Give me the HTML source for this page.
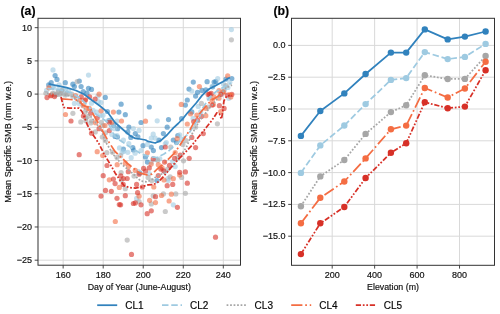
<!DOCTYPE html><html><head><meta charset="utf-8"><style>html,body{margin:0;padding:0;background:#fff;width:500px;height:314px;overflow:hidden}svg{display:block}text{font-family:"Liberation Sans",sans-serif;fill:#111111;stroke:#111111;stroke-width:0.18px}</style></head><body>
<div style="will-change:transform;width:500px;height:314px">
<svg width="500" height="314" viewBox="0 0 500 314">
<g>
<line x1="63.15" y1="18.3" x2="63.15" y2="265.2" stroke="#d9d9d9" stroke-width="1"/>
<line x1="103.19" y1="18.3" x2="103.19" y2="265.2" stroke="#d9d9d9" stroke-width="1"/>
<line x1="143.23" y1="18.3" x2="143.23" y2="265.2" stroke="#d9d9d9" stroke-width="1"/>
<line x1="183.27" y1="18.3" x2="183.27" y2="265.2" stroke="#d9d9d9" stroke-width="1"/>
<line x1="223.31" y1="18.3" x2="223.31" y2="265.2" stroke="#d9d9d9" stroke-width="1"/>
<line x1="38.0" y1="27.66" x2="240.5" y2="27.66" stroke="#d9d9d9" stroke-width="1"/>
<line x1="38.0" y1="60.88" x2="240.5" y2="60.88" stroke="#d9d9d9" stroke-width="1"/>
<line x1="38.0" y1="94.10" x2="240.5" y2="94.10" stroke="#d9d9d9" stroke-width="1"/>
<line x1="38.0" y1="127.32" x2="240.5" y2="127.32" stroke="#d9d9d9" stroke-width="1"/>
<line x1="38.0" y1="160.54" x2="240.5" y2="160.54" stroke="#d9d9d9" stroke-width="1"/>
<line x1="38.0" y1="193.76" x2="240.5" y2="193.76" stroke="#d9d9d9" stroke-width="1"/>
<line x1="38.0" y1="226.98" x2="240.5" y2="226.98" stroke="#d9d9d9" stroke-width="1"/>
<line x1="38.0" y1="260.20" x2="240.5" y2="260.20" stroke="#d9d9d9" stroke-width="1"/>
</g>
<line x1="332.20" y1="18.3" x2="332.20" y2="265.3" stroke="#d9d9d9" stroke-width="1"/>
<line x1="374.64" y1="18.3" x2="374.64" y2="265.3" stroke="#d9d9d9" stroke-width="1"/>
<line x1="417.08" y1="18.3" x2="417.08" y2="265.3" stroke="#d9d9d9" stroke-width="1"/>
<line x1="459.52" y1="18.3" x2="459.52" y2="265.3" stroke="#d9d9d9" stroke-width="1"/>
<line x1="291.5" y1="45.40" x2="494.5" y2="45.40" stroke="#d9d9d9" stroke-width="1"/>
<line x1="291.5" y1="77.20" x2="494.5" y2="77.20" stroke="#d9d9d9" stroke-width="1"/>
<line x1="291.5" y1="109.00" x2="494.5" y2="109.00" stroke="#d9d9d9" stroke-width="1"/>
<line x1="291.5" y1="140.80" x2="494.5" y2="140.80" stroke="#d9d9d9" stroke-width="1"/>
<line x1="291.5" y1="172.60" x2="494.5" y2="172.60" stroke="#d9d9d9" stroke-width="1"/>
<line x1="291.5" y1="204.40" x2="494.5" y2="204.40" stroke="#d9d9d9" stroke-width="1"/>
<line x1="291.5" y1="236.20" x2="494.5" y2="236.20" stroke="#d9d9d9" stroke-width="1"/>
<g>
<g fill="#3182bd" fill-opacity="0.6">
<circle cx="55.1" cy="75.6" r="2.6"/>
<circle cx="57.0" cy="79.4" r="2.6"/>
<circle cx="51.2" cy="82.7" r="2.6"/>
<circle cx="48.7" cy="84.9" r="2.6"/>
<circle cx="65.3" cy="82.7" r="2.6"/>
<circle cx="72.9" cy="84.2" r="2.6"/>
<circle cx="74.4" cy="86.5" r="2.6"/>
<circle cx="79.3" cy="81.0" r="2.6"/>
<circle cx="81.1" cy="86.5" r="2.6"/>
<circle cx="88.5" cy="88.3" r="2.6"/>
<circle cx="91.5" cy="89.4" r="2.6"/>
<circle cx="83.2" cy="91.7" r="2.6"/>
<circle cx="87.0" cy="93.0" r="2.6"/>
<circle cx="105.3" cy="97.4" r="2.6"/>
<circle cx="121.1" cy="104.2" r="2.6"/>
<circle cx="118.9" cy="112.1" r="2.6"/>
<circle cx="125.3" cy="114.7" r="2.6"/>
<circle cx="107.4" cy="111.5" r="2.6"/>
<circle cx="109.3" cy="120.4" r="2.6"/>
<circle cx="117.6" cy="128.7" r="2.6"/>
<circle cx="127.8" cy="131.9" r="2.6"/>
<circle cx="115.1" cy="136.4" r="2.6"/>
<circle cx="123.4" cy="149.1" r="2.6"/>
<circle cx="133.4" cy="150.0" r="2.6"/>
<circle cx="153.4" cy="150.6" r="2.6"/>
<circle cx="145.5" cy="157.0" r="2.6"/>
<circle cx="147.4" cy="162.1" r="2.6"/>
<circle cx="139.8" cy="173.0" r="2.6"/>
<circle cx="157.0" cy="180.6" r="2.6"/>
<circle cx="141.0" cy="122.5" r="2.6"/>
<circle cx="168.5" cy="119.6" r="2.6"/>
<circle cx="128.9" cy="127.2" r="2.6"/>
<circle cx="135.3" cy="133.6" r="2.6"/>
<circle cx="137.9" cy="136.8" r="2.6"/>
<circle cx="130.8" cy="137.4" r="2.6"/>
<circle cx="163.4" cy="133.6" r="2.6"/>
<circle cx="167.2" cy="127.2" r="2.6"/>
<circle cx="158.9" cy="140.0" r="2.6"/>
<circle cx="151.3" cy="147.0" r="2.6"/>
<circle cx="132.8" cy="147.6" r="2.6"/>
<circle cx="143.0" cy="145.7" r="2.6"/>
<circle cx="161.5" cy="147.6" r="2.6"/>
<circle cx="149.3" cy="107.0" r="2.6"/>
<circle cx="181.6" cy="118.7" r="2.6"/>
<circle cx="191.8" cy="111.9" r="2.6"/>
<circle cx="177.8" cy="135.5" r="2.6"/>
<circle cx="173.3" cy="140.0" r="2.6"/>
<circle cx="176.5" cy="142.5" r="2.6"/>
<circle cx="193.3" cy="82.1" r="2.6"/>
<circle cx="207.1" cy="81.7" r="2.6"/>
<circle cx="214.1" cy="82.1" r="2.6"/>
<circle cx="189.0" cy="89.1" r="2.6"/>
<circle cx="197.5" cy="92.3" r="2.6"/>
<circle cx="202.0" cy="90.4" r="2.6"/>
<circle cx="205.8" cy="89.8" r="2.6"/>
<circle cx="195.6" cy="96.1" r="2.6"/>
<circle cx="187.3" cy="100.0" r="2.6"/>
<circle cx="185.4" cy="105.1" r="2.6"/>
<circle cx="215.8" cy="81.7" r="2.6"/>
<circle cx="226.0" cy="79.1" r="2.6"/>
<circle cx="231.8" cy="78.5" r="2.6"/>
<circle cx="212.6" cy="86.8" r="2.6"/>
<circle cx="113.6" cy="125.6" r="2.6"/>
<circle cx="117.4" cy="137.0" r="2.6"/>
</g>
<g fill="#9ecae1" fill-opacity="0.6">
<circle cx="53.0" cy="69.9" r="2.6"/>
<circle cx="88.5" cy="75.1" r="2.6"/>
<circle cx="46.6" cy="90.4" r="2.6"/>
<circle cx="59.1" cy="84.9" r="2.6"/>
<circle cx="52.8" cy="86.8" r="2.6"/>
<circle cx="65.5" cy="89.3" r="2.6"/>
<circle cx="74.4" cy="103.4" r="2.6"/>
<circle cx="97.9" cy="96.1" r="2.6"/>
<circle cx="101.0" cy="102.5" r="2.6"/>
<circle cx="91.5" cy="103.2" r="2.6"/>
<circle cx="96.6" cy="112.1" r="2.6"/>
<circle cx="103.0" cy="115.3" r="2.6"/>
<circle cx="117.0" cy="121.0" r="2.6"/>
<circle cx="114.4" cy="128.7" r="2.6"/>
<circle cx="111.9" cy="134.4" r="2.6"/>
<circle cx="117.0" cy="135.7" r="2.6"/>
<circle cx="123.4" cy="140.2" r="2.6"/>
<circle cx="119.5" cy="147.9" r="2.6"/>
<circle cx="122.1" cy="152.3" r="2.6"/>
<circle cx="127.8" cy="152.3" r="2.6"/>
<circle cx="123.8" cy="151.3" r="2.6"/>
<circle cx="135.1" cy="153.2" r="2.6"/>
<circle cx="141.0" cy="150.6" r="2.6"/>
<circle cx="131.2" cy="157.7" r="2.6"/>
<circle cx="151.3" cy="162.1" r="2.6"/>
<circle cx="138.5" cy="171.7" r="2.6"/>
<circle cx="149.3" cy="173.6" r="2.6"/>
<circle cx="164.6" cy="171.7" r="2.6"/>
<circle cx="167.8" cy="178.7" r="2.6"/>
<circle cx="157.2" cy="120.8" r="2.6"/>
<circle cx="133.4" cy="128.5" r="2.6"/>
<circle cx="139.1" cy="130.4" r="2.6"/>
<circle cx="153.2" cy="134.2" r="2.6"/>
<circle cx="151.3" cy="138.1" r="2.6"/>
<circle cx="155.1" cy="138.1" r="2.6"/>
<circle cx="147.4" cy="144.4" r="2.6"/>
<circle cx="165.3" cy="143.8" r="2.6"/>
<circle cx="136.6" cy="198.4" r="2.6"/>
<circle cx="172.7" cy="161.5" r="2.6"/>
<circle cx="175.2" cy="166.6" r="2.6"/>
<circle cx="168.2" cy="180.6" r="2.6"/>
<circle cx="193.1" cy="118.3" r="2.6"/>
<circle cx="200.7" cy="111.9" r="2.6"/>
<circle cx="179.7" cy="134.9" r="2.6"/>
<circle cx="181.6" cy="139.3" r="2.6"/>
<circle cx="166.3" cy="142.5" r="2.6"/>
<circle cx="191.8" cy="91.0" r="2.6"/>
<circle cx="209.0" cy="98.1" r="2.6"/>
<circle cx="198.2" cy="106.4" r="2.6"/>
<circle cx="217.7" cy="78.5" r="2.6"/>
<circle cx="229.8" cy="82.3" r="2.6"/>
<circle cx="223.5" cy="84.2" r="2.6"/>
<circle cx="227.9" cy="87.4" r="2.6"/>
<circle cx="220.9" cy="94.4" r="2.6"/>
<circle cx="210.1" cy="95.7" r="2.6"/>
<circle cx="231.4" cy="29.6" r="2.6"/>
<circle cx="228.8" cy="98.3" r="2.6"/>
<circle cx="173.3" cy="204.8" r="2.6"/>
<circle cx="53.6" cy="88.0" r="2.6"/>
<circle cx="58.3" cy="89.5" r="2.6"/>
<circle cx="63.1" cy="89.0" r="2.6"/>
<circle cx="68.8" cy="90.4" r="2.6"/>
<circle cx="62.1" cy="91.4" r="2.6"/>
<circle cx="72.7" cy="96.6" r="2.6"/>
<circle cx="76.5" cy="97.6" r="2.6"/>
<circle cx="79.3" cy="103.8" r="2.6"/>
<circle cx="66.0" cy="94.2" r="2.6"/>
<circle cx="98.3" cy="101.7" r="2.6"/>
<circle cx="93.1" cy="110.3" r="2.6"/>
<circle cx="100.2" cy="115.6" r="2.6"/>
<circle cx="107.9" cy="120.8" r="2.6"/>
<circle cx="112.7" cy="124.7" r="2.6"/>
<circle cx="128.8" cy="143.7" r="2.6"/>
<circle cx="212.1" cy="86.3" r="2.6"/>
<circle cx="224.5" cy="89.8" r="2.6"/>
<circle cx="155.5" cy="159.3" r="2.6"/>
<circle cx="159.8" cy="158.8" r="2.6"/>
</g>
<g fill="#a6a6a6" fill-opacity="0.6">
<circle cx="77.2" cy="81.7" r="2.6"/>
<circle cx="54.0" cy="93.8" r="2.6"/>
<circle cx="56.6" cy="94.2" r="2.6"/>
<circle cx="61.7" cy="90.6" r="2.6"/>
<circle cx="55.3" cy="95.1" r="2.6"/>
<circle cx="59.1" cy="94.5" r="2.6"/>
<circle cx="65.5" cy="95.1" r="2.6"/>
<circle cx="72.9" cy="113.3" r="2.6"/>
<circle cx="80.8" cy="121.9" r="2.6"/>
<circle cx="85.9" cy="118.0" r="2.6"/>
<circle cx="87.7" cy="116.6" r="2.6"/>
<circle cx="90.8" cy="123.0" r="2.6"/>
<circle cx="103.0" cy="125.5" r="2.6"/>
<circle cx="95.3" cy="131.9" r="2.6"/>
<circle cx="102.3" cy="137.0" r="2.6"/>
<circle cx="105.5" cy="132.8" r="2.6"/>
<circle cx="106.8" cy="152.7" r="2.6"/>
<circle cx="112.5" cy="152.3" r="2.6"/>
<circle cx="117.0" cy="157.4" r="2.6"/>
<circle cx="121.1" cy="172.5" r="2.6"/>
<circle cx="125.3" cy="188.7" r="2.6"/>
<circle cx="120.6" cy="155.7" r="2.6"/>
<circle cx="157.6" cy="160.2" r="2.6"/>
<circle cx="134.0" cy="176.1" r="2.6"/>
<circle cx="148.1" cy="177.4" r="2.6"/>
<circle cx="121.3" cy="180.0" r="2.6"/>
<circle cx="151.9" cy="180.6" r="2.6"/>
<circle cx="139.1" cy="201.6" r="2.6"/>
<circle cx="153.2" cy="195.8" r="2.6"/>
<circle cx="163.4" cy="193.9" r="2.6"/>
<circle cx="151.3" cy="203.9" r="2.6"/>
<circle cx="165.3" cy="211.5" r="2.6"/>
<circle cx="127.2" cy="240.1" r="2.6"/>
<circle cx="177.8" cy="157.7" r="2.6"/>
<circle cx="183.5" cy="160.8" r="2.6"/>
<circle cx="167.6" cy="169.1" r="2.6"/>
<circle cx="181.6" cy="177.4" r="2.6"/>
<circle cx="170.1" cy="176.8" r="2.6"/>
<circle cx="195.6" cy="127.2" r="2.6"/>
<circle cx="186.0" cy="140.6" r="2.6"/>
<circle cx="170.7" cy="147.0" r="2.6"/>
<circle cx="182.9" cy="144.4" r="2.6"/>
<circle cx="201.4" cy="103.4" r="2.6"/>
<circle cx="226.0" cy="85.5" r="2.6"/>
<circle cx="231.4" cy="39.8" r="2.6"/>
<circle cx="217.4" cy="123.8" r="2.6"/>
<circle cx="208.0" cy="107.0" r="2.6"/>
<circle cx="175.8" cy="193.9" r="2.6"/>
<circle cx="185.4" cy="193.3" r="2.6"/>
<circle cx="45.9" cy="93.3" r="2.6"/>
<circle cx="52.6" cy="93.3" r="2.6"/>
<circle cx="61.2" cy="93.8" r="2.6"/>
<circle cx="66.9" cy="93.3" r="2.6"/>
<circle cx="71.7" cy="94.2" r="2.6"/>
<circle cx="58.3" cy="91.4" r="2.6"/>
<circle cx="85.4" cy="111.8" r="2.6"/>
<circle cx="85.9" cy="120.8" r="2.6"/>
<circle cx="91.6" cy="120.8" r="2.6"/>
<circle cx="101.2" cy="122.3" r="2.6"/>
<circle cx="105.4" cy="140.4" r="2.6"/>
<circle cx="222.8" cy="91.6" r="2.6"/>
</g>
<g fill="#f46d43" fill-opacity="0.6">
<circle cx="48.9" cy="87.8" r="2.6"/>
<circle cx="51.5" cy="95.1" r="2.6"/>
<circle cx="65.5" cy="114.5" r="2.6"/>
<circle cx="99.1" cy="94.2" r="2.6"/>
<circle cx="85.1" cy="100.6" r="2.6"/>
<circle cx="83.2" cy="105.7" r="2.6"/>
<circle cx="87.7" cy="108.3" r="2.6"/>
<circle cx="113.4" cy="112.1" r="2.6"/>
<circle cx="101.0" cy="110.8" r="2.6"/>
<circle cx="121.5" cy="121.0" r="2.6"/>
<circle cx="111.9" cy="122.3" r="2.6"/>
<circle cx="104.9" cy="125.5" r="2.6"/>
<circle cx="97.2" cy="151.7" r="2.6"/>
<circle cx="102.7" cy="155.5" r="2.6"/>
<circle cx="117.2" cy="164.7" r="2.6"/>
<circle cx="125.3" cy="163.2" r="2.6"/>
<circle cx="109.3" cy="179.8" r="2.6"/>
<circle cx="119.3" cy="187.4" r="2.6"/>
<circle cx="128.5" cy="166.4" r="2.6"/>
<circle cx="115.3" cy="221.5" r="2.6"/>
<circle cx="147.4" cy="152.8" r="2.6"/>
<circle cx="158.3" cy="164.7" r="2.6"/>
<circle cx="162.1" cy="167.9" r="2.6"/>
<circle cx="135.3" cy="170.4" r="2.6"/>
<circle cx="164.0" cy="180.0" r="2.6"/>
<circle cx="153.8" cy="187.0" r="2.6"/>
<circle cx="145.5" cy="121.2" r="2.6"/>
<circle cx="139.1" cy="196.2" r="2.6"/>
<circle cx="161.5" cy="195.5" r="2.6"/>
<circle cx="149.6" cy="200.3" r="2.6"/>
<circle cx="155.5" cy="202.6" r="2.6"/>
<circle cx="169.1" cy="201.0" r="2.6"/>
<circle cx="175.2" cy="152.6" r="2.6"/>
<circle cx="179.7" cy="174.9" r="2.6"/>
<circle cx="173.3" cy="178.7" r="2.6"/>
<circle cx="190.5" cy="113.8" r="2.6"/>
<circle cx="187.3" cy="124.0" r="2.6"/>
<circle cx="196.9" cy="115.1" r="2.6"/>
<circle cx="205.8" cy="115.7" r="2.6"/>
<circle cx="177.1" cy="138.7" r="2.6"/>
<circle cx="199.4" cy="86.6" r="2.6"/>
<circle cx="181.3" cy="104.4" r="2.6"/>
<circle cx="212.2" cy="100.6" r="2.6"/>
<circle cx="205.8" cy="108.3" r="2.6"/>
<circle cx="227.7" cy="75.9" r="2.6"/>
<circle cx="219.0" cy="90.6" r="2.6"/>
<circle cx="223.5" cy="91.8" r="2.6"/>
<circle cx="213.9" cy="96.9" r="2.6"/>
<circle cx="219.0" cy="98.2" r="2.6"/>
<circle cx="213.4" cy="104.6" r="2.6"/>
<circle cx="220.7" cy="111.7" r="2.6"/>
<circle cx="230.8" cy="97.0" r="2.6"/>
<circle cx="171.4" cy="194.2" r="2.6"/>
<circle cx="75.5" cy="95.7" r="2.6"/>
<circle cx="80.3" cy="100.0" r="2.6"/>
<circle cx="89.3" cy="108.4" r="2.6"/>
<circle cx="95.5" cy="122.7" r="2.6"/>
<circle cx="151.2" cy="164.1" r="2.6"/>
</g>
<g fill="#d73027" fill-opacity="0.6">
<circle cx="47.0" cy="97.6" r="2.6"/>
<circle cx="71.0" cy="121.0" r="2.6"/>
<circle cx="83.4" cy="116.1" r="2.6"/>
<circle cx="95.1" cy="99.1" r="2.6"/>
<circle cx="89.6" cy="96.8" r="2.6"/>
<circle cx="81.3" cy="96.8" r="2.6"/>
<circle cx="97.2" cy="117.9" r="2.6"/>
<circle cx="109.3" cy="122.3" r="2.6"/>
<circle cx="99.1" cy="128.7" r="2.6"/>
<circle cx="109.3" cy="130.6" r="2.6"/>
<circle cx="91.5" cy="133.2" r="2.6"/>
<circle cx="79.2" cy="154.7" r="2.6"/>
<circle cx="107.0" cy="165.5" r="2.6"/>
<circle cx="103.2" cy="175.7" r="2.6"/>
<circle cx="113.4" cy="179.1" r="2.6"/>
<circle cx="120.8" cy="175.9" r="2.6"/>
<circle cx="123.4" cy="178.5" r="2.6"/>
<circle cx="127.2" cy="178.5" r="2.6"/>
<circle cx="115.1" cy="183.6" r="2.6"/>
<circle cx="105.5" cy="190.4" r="2.6"/>
<circle cx="111.3" cy="191.3" r="2.6"/>
<circle cx="101.0" cy="196.1" r="2.6"/>
<circle cx="117.0" cy="198.3" r="2.6"/>
<circle cx="125.3" cy="195.7" r="2.6"/>
<circle cx="119.3" cy="204.6" r="2.6"/>
<circle cx="153.2" cy="158.9" r="2.6"/>
<circle cx="149.3" cy="167.9" r="2.6"/>
<circle cx="164.6" cy="162.1" r="2.6"/>
<circle cx="128.3" cy="171.7" r="2.6"/>
<circle cx="139.1" cy="174.2" r="2.6"/>
<circle cx="145.5" cy="171.0" r="2.6"/>
<circle cx="158.3" cy="175.5" r="2.6"/>
<circle cx="160.8" cy="169.1" r="2.6"/>
<circle cx="136.6" cy="184.4" r="2.6"/>
<circle cx="123.2" cy="184.4" r="2.6"/>
<circle cx="142.3" cy="187.0" r="2.6"/>
<circle cx="167.2" cy="185.7" r="2.6"/>
<circle cx="165.3" cy="147.0" r="2.6"/>
<circle cx="137.6" cy="192.7" r="2.6"/>
<circle cx="133.4" cy="203.5" r="2.6"/>
<circle cx="135.3" cy="202.9" r="2.6"/>
<circle cx="141.0" cy="204.8" r="2.6"/>
<circle cx="120.6" cy="204.8" r="2.6"/>
<circle cx="155.5" cy="196.7" r="2.6"/>
<circle cx="151.3" cy="210.8" r="2.6"/>
<circle cx="147.2" cy="213.7" r="2.6"/>
<circle cx="131.5" cy="254.4" r="2.6"/>
<circle cx="180.3" cy="155.1" r="2.6"/>
<circle cx="174.6" cy="158.3" r="2.6"/>
<circle cx="189.2" cy="158.3" r="2.6"/>
<circle cx="169.5" cy="165.3" r="2.6"/>
<circle cx="179.7" cy="172.3" r="2.6"/>
<circle cx="185.4" cy="171.9" r="2.6"/>
<circle cx="187.3" cy="183.2" r="2.6"/>
<circle cx="172.7" cy="184.4" r="2.6"/>
<circle cx="193.7" cy="121.5" r="2.6"/>
<circle cx="201.4" cy="116.4" r="2.6"/>
<circle cx="197.5" cy="120.2" r="2.6"/>
<circle cx="203.3" cy="133.6" r="2.6"/>
<circle cx="191.8" cy="137.4" r="2.6"/>
<circle cx="195.6" cy="147.6" r="2.6"/>
<circle cx="209.6" cy="94.2" r="2.6"/>
<circle cx="212.2" cy="105.1" r="2.6"/>
<circle cx="231.8" cy="94.4" r="2.6"/>
<circle cx="227.3" cy="95.0" r="2.6"/>
<circle cx="208.2" cy="94.4" r="2.6"/>
<circle cx="219.4" cy="105.7" r="2.6"/>
<circle cx="224.1" cy="108.4" r="2.6"/>
<circle cx="177.4" cy="207.3" r="2.6"/>
<circle cx="215.5" cy="237.2" r="2.6"/>
<circle cx="50.7" cy="95.7" r="2.6"/>
<circle cx="54.5" cy="96.6" r="2.6"/>
<circle cx="85.4" cy="99.8" r="2.6"/>
<circle cx="90.7" cy="113.2" r="2.6"/>
<circle cx="211.2" cy="93.4" r="2.6"/>
<circle cx="221.0" cy="94.3" r="2.6"/>
<circle cx="143.6" cy="168.4" r="2.6"/>
<circle cx="163.7" cy="170.8" r="2.6"/>
</g>
</g>
<g fill="none" stroke-width="1.75" stroke-linejoin="round">
<polyline points="48.5,84 57,85.7 66.7,87.7 76,90.5 84,94.3 92,100.3 100,106 108,112.7 115,122.5 120.1,127 125.2,131.5 130.3,135.9 135.4,138.5 140,139 145.6,140 148,141.4 155.1,143 160.7,140.6 167,135 173.4,127.8 178.2,123.5 183,118.5 187.6,112.8 192.7,107 196.6,102.5 201.9,95.6 205.7,91.8 209.5,88.7 214.1,86.4 219,83.7 222.8,81.8 227.2,79.1 229.9,77.4" stroke="#3182bd"/>
<polyline points="47.5,88.5 58.3,89.5 63.1,90.5 72,93 80,98 88,106 93.6,112.7 99.9,116.7 107.9,122.5 115,136.6 120.3,140.5 127.3,145.3 134.3,149.6 141.3,154 150,156.6 157,157.5 164,154 169.3,150.5 174.5,145.3 181.8,139.6 188.9,133.2 194,125.6 199.1,117.9 202.9,107.7 209.3,97.5 216.3,91.5 225.9,85.7 231,83" stroke="#9ecae1" stroke-dasharray="6.48 2.80"/>
<polyline points="47,93.5 55,94 63,94.5 72,96.5 80,103 86,111 93.6,120 101.5,130.2 105,141 113.6,155 122,164.5 132.5,173.3 140.6,181 147,181.8 152.1,179.5 157.2,176 167.5,171.5 174.5,164.5 181,155 186.2,147.8 191.5,135 196.6,125.6 201.7,117.9 206.8,111.6 210.6,106.5 214.4,102.6 220,95 226,88 232,85" stroke="#a6a6a6" stroke-dasharray="1.75 1.75"/>
<polyline points="61.5,98.8 70,99.5 75.8,99.9 80.6,102.3 83,105.4 90.2,107.8 93.6,115 98.3,123 103.1,132 107.9,140.6 115,151.5 121.5,157.6 126.6,162.7 133,167.8 139.3,172.9 147,174.8 152.1,174.1 157.2,169 164,163.5 167.6,160 174,153.6 179.1,146.5 182.9,140.5 188,132.8 190.2,129.4 194,122.4 197.8,116 202.3,110.3 206.8,105.2 211.8,100.1 216.9,96.9 222,93.4 229.7,93.4 233,94.5" stroke="#f46d43" stroke-dasharray="11.20 2.80 1.75 2.80"/>
<polyline points="61,97 62.5,103 63.8,107.5 70,108.2 79,108.2 82,111.5 84.8,118 87,124 90.4,131 95.9,139 99.1,144 104,153.9 110,163.9 115.1,172.9 120.2,180.5 124,185.6 129.1,187.5 135.5,188.2 141.9,186.8 148.3,184.8 153.4,184.6 158.5,181.8 164,176 168.9,170 175.3,162.5 181.7,156 186.8,150.8 191.8,145.5 196.9,139 201.7,133.2 206.8,126.8 211.8,120.5 216.9,112.8 219.5,114.1 221.4,119.2 222.6,112.8 223.3,105.8 224,100.7 227,95.6 232,95.5" stroke="#d73027" stroke-dasharray="5.25 1.75 1.75 1.75 1.75 1.75"/>
</g>
<clipPath id="cb"><rect x="291.5" y="18.3" width="203.0" height="247.0"/></clipPath>
<g clip-path="url(#cb)">
<polyline points="300.9,135.9 320.3,111.0 344.3,93.4 365.6,74.0 390.9,52.6 406.2,52.6 424.8,29.4 447.7,39.4 464.9,36.6 485.6,31.5" fill="none" stroke="#3182bd" stroke-width="1.75" stroke-linejoin="round"/>
<circle cx="300.9" cy="135.9" r="3.2" fill="#3182bd"/>
<circle cx="320.3" cy="111.0" r="3.2" fill="#3182bd"/>
<circle cx="344.3" cy="93.4" r="3.2" fill="#3182bd"/>
<circle cx="365.6" cy="74.0" r="3.2" fill="#3182bd"/>
<circle cx="390.9" cy="52.6" r="3.2" fill="#3182bd"/>
<circle cx="406.2" cy="52.6" r="3.2" fill="#3182bd"/>
<circle cx="424.8" cy="29.4" r="3.2" fill="#3182bd"/>
<circle cx="447.7" cy="39.4" r="3.2" fill="#3182bd"/>
<circle cx="464.9" cy="36.6" r="3.2" fill="#3182bd"/>
<circle cx="485.6" cy="31.5" r="3.2" fill="#3182bd"/>
<polyline points="300.9,172.9 320.3,145.4 344.3,125.5 365.6,104.1 390.9,79.9 406.2,78.1 424.8,52.1 447.7,59.1 464.9,56.9 485.6,43.9" fill="none" stroke="#9ecae1" stroke-width="1.75" stroke-dasharray="6.48 2.80" stroke-linejoin="round"/>
<circle cx="300.9" cy="172.9" r="3.2" fill="#9ecae1"/>
<circle cx="320.3" cy="145.4" r="3.2" fill="#9ecae1"/>
<circle cx="344.3" cy="125.5" r="3.2" fill="#9ecae1"/>
<circle cx="365.6" cy="104.1" r="3.2" fill="#9ecae1"/>
<circle cx="390.9" cy="79.9" r="3.2" fill="#9ecae1"/>
<circle cx="406.2" cy="78.1" r="3.2" fill="#9ecae1"/>
<circle cx="424.8" cy="52.1" r="3.2" fill="#9ecae1"/>
<circle cx="447.7" cy="59.1" r="3.2" fill="#9ecae1"/>
<circle cx="464.9" cy="56.9" r="3.2" fill="#9ecae1"/>
<circle cx="485.6" cy="43.9" r="3.2" fill="#9ecae1"/>
<polyline points="300.9,206.2 320.3,176.4 344.3,160.0 365.6,133.9 390.9,112.1 406.2,105.2 424.8,75.3 447.7,79.0 464.9,78.9 485.6,56.0" fill="none" stroke="#a6a6a6" stroke-width="1.75" stroke-dasharray="1.75 1.75" stroke-linejoin="round"/>
<circle cx="300.9" cy="206.2" r="3.2" fill="#a6a6a6"/>
<circle cx="320.3" cy="176.4" r="3.2" fill="#a6a6a6"/>
<circle cx="344.3" cy="160.0" r="3.2" fill="#a6a6a6"/>
<circle cx="365.6" cy="133.9" r="3.2" fill="#a6a6a6"/>
<circle cx="390.9" cy="112.1" r="3.2" fill="#a6a6a6"/>
<circle cx="406.2" cy="105.2" r="3.2" fill="#a6a6a6"/>
<circle cx="424.8" cy="75.3" r="3.2" fill="#a6a6a6"/>
<circle cx="447.7" cy="79.0" r="3.2" fill="#a6a6a6"/>
<circle cx="464.9" cy="78.9" r="3.2" fill="#a6a6a6"/>
<circle cx="485.6" cy="56.0" r="3.2" fill="#a6a6a6"/>
<polyline points="300.9,223.3 320.3,197.8 344.3,181.5 365.6,158.4 390.9,129.3 406.2,125.6 424.8,88.0 447.7,97.5 464.9,88.5 485.6,61.7" fill="none" stroke="#f46d43" stroke-width="1.75" stroke-dasharray="11.20 2.80 1.75 2.80" stroke-linejoin="round"/>
<circle cx="300.9" cy="223.3" r="3.2" fill="#f46d43"/>
<circle cx="320.3" cy="197.8" r="3.2" fill="#f46d43"/>
<circle cx="344.3" cy="181.5" r="3.2" fill="#f46d43"/>
<circle cx="365.6" cy="158.4" r="3.2" fill="#f46d43"/>
<circle cx="390.9" cy="129.3" r="3.2" fill="#f46d43"/>
<circle cx="406.2" cy="125.6" r="3.2" fill="#f46d43"/>
<circle cx="424.8" cy="88.0" r="3.2" fill="#f46d43"/>
<circle cx="447.7" cy="97.5" r="3.2" fill="#f46d43"/>
<circle cx="464.9" cy="88.5" r="3.2" fill="#f46d43"/>
<circle cx="485.6" cy="61.7" r="3.2" fill="#f46d43"/>
<polyline points="300.9,254.1 320.3,223.3 344.3,207.0 365.6,178.0 390.9,152.8 406.2,143.2 424.8,102.2 447.7,108.2 464.9,106.6 485.6,70.3" fill="none" stroke="#d73027" stroke-width="1.75" stroke-dasharray="5.25 1.75 1.75 1.75 1.75 1.75" stroke-linejoin="round"/>
<circle cx="300.9" cy="254.1" r="3.2" fill="#d73027"/>
<circle cx="320.3" cy="223.3" r="3.2" fill="#d73027"/>
<circle cx="344.3" cy="207.0" r="3.2" fill="#d73027"/>
<circle cx="365.6" cy="178.0" r="3.2" fill="#d73027"/>
<circle cx="390.9" cy="152.8" r="3.2" fill="#d73027"/>
<circle cx="406.2" cy="143.2" r="3.2" fill="#d73027"/>
<circle cx="424.8" cy="102.2" r="3.2" fill="#d73027"/>
<circle cx="447.7" cy="108.2" r="3.2" fill="#d73027"/>
<circle cx="464.9" cy="106.6" r="3.2" fill="#d73027"/>
<circle cx="485.6" cy="70.3" r="3.2" fill="#d73027"/>
</g>
<rect x="38.0" y="18.3" width="202.5" height="246.89999999999998" fill="none" stroke="#333333" stroke-width="1"/>
<rect x="291.5" y="18.3" width="203.0" height="247.0" fill="none" stroke="#333333" stroke-width="1"/>
<line x1="34.7" y1="27.66" x2="38.0" y2="27.66" stroke="#333333" stroke-width="0.9"/>
<text x="32.0" y="30.71" font-size="9.0" text-anchor="end">10</text>
<line x1="34.7" y1="60.88" x2="38.0" y2="60.88" stroke="#333333" stroke-width="0.9"/>
<text x="32.0" y="63.93" font-size="9.0" text-anchor="end">5</text>
<line x1="34.7" y1="94.10" x2="38.0" y2="94.10" stroke="#333333" stroke-width="0.9"/>
<text x="32.0" y="97.15" font-size="9.0" text-anchor="end">0</text>
<line x1="34.7" y1="127.32" x2="38.0" y2="127.32" stroke="#333333" stroke-width="0.9"/>
<text x="32.0" y="130.37" font-size="9.0" text-anchor="end">−5</text>
<line x1="34.7" y1="160.54" x2="38.0" y2="160.54" stroke="#333333" stroke-width="0.9"/>
<text x="32.0" y="163.59" font-size="9.0" text-anchor="end">−10</text>
<line x1="34.7" y1="193.76" x2="38.0" y2="193.76" stroke="#333333" stroke-width="0.9"/>
<text x="32.0" y="196.81" font-size="9.0" text-anchor="end">−15</text>
<line x1="34.7" y1="226.98" x2="38.0" y2="226.98" stroke="#333333" stroke-width="0.9"/>
<text x="32.0" y="230.03" font-size="9.0" text-anchor="end">−20</text>
<line x1="34.7" y1="260.20" x2="38.0" y2="260.20" stroke="#333333" stroke-width="0.9"/>
<text x="32.0" y="263.25" font-size="9.0" text-anchor="end">−25</text>
<line x1="63.15" y1="265.2" x2="63.15" y2="268.5" stroke="#333333" stroke-width="0.9"/>
<text x="63.15" y="278.3" font-size="9.0" text-anchor="middle">160</text>
<line x1="103.19" y1="265.2" x2="103.19" y2="268.5" stroke="#333333" stroke-width="0.9"/>
<text x="103.19" y="278.3" font-size="9.0" text-anchor="middle">180</text>
<line x1="143.23" y1="265.2" x2="143.23" y2="268.5" stroke="#333333" stroke-width="0.9"/>
<text x="143.23" y="278.3" font-size="9.0" text-anchor="middle">200</text>
<line x1="183.27" y1="265.2" x2="183.27" y2="268.5" stroke="#333333" stroke-width="0.9"/>
<text x="183.27" y="278.3" font-size="9.0" text-anchor="middle">220</text>
<line x1="223.31" y1="265.2" x2="223.31" y2="268.5" stroke="#333333" stroke-width="0.9"/>
<text x="223.31" y="278.3" font-size="9.0" text-anchor="middle">240</text>
<line x1="288.2" y1="45.40" x2="291.5" y2="45.40" stroke="#333333" stroke-width="0.9"/>
<text x="285.5" y="48.45" font-size="9.0" text-anchor="end">0.0</text>
<line x1="288.2" y1="77.20" x2="291.5" y2="77.20" stroke="#333333" stroke-width="0.9"/>
<text x="285.5" y="80.25" font-size="9.0" text-anchor="end">−2.5</text>
<line x1="288.2" y1="109.00" x2="291.5" y2="109.00" stroke="#333333" stroke-width="0.9"/>
<text x="285.5" y="112.05" font-size="9.0" text-anchor="end">−5.0</text>
<line x1="288.2" y1="140.80" x2="291.5" y2="140.80" stroke="#333333" stroke-width="0.9"/>
<text x="285.5" y="143.85" font-size="9.0" text-anchor="end">−7.5</text>
<line x1="288.2" y1="172.60" x2="291.5" y2="172.60" stroke="#333333" stroke-width="0.9"/>
<text x="285.5" y="175.65" font-size="9.0" text-anchor="end">−10.0</text>
<line x1="288.2" y1="204.40" x2="291.5" y2="204.40" stroke="#333333" stroke-width="0.9"/>
<text x="285.5" y="207.45" font-size="9.0" text-anchor="end">−12.5</text>
<line x1="288.2" y1="236.20" x2="291.5" y2="236.20" stroke="#333333" stroke-width="0.9"/>
<text x="285.5" y="239.25" font-size="9.0" text-anchor="end">−15.0</text>
<line x1="332.20" y1="265.3" x2="332.20" y2="268.6" stroke="#333333" stroke-width="0.9"/>
<text x="332.20" y="278.3" font-size="9.0" text-anchor="middle">200</text>
<line x1="374.64" y1="265.3" x2="374.64" y2="268.6" stroke="#333333" stroke-width="0.9"/>
<text x="374.64" y="278.3" font-size="9.0" text-anchor="middle">400</text>
<line x1="417.08" y1="265.3" x2="417.08" y2="268.6" stroke="#333333" stroke-width="0.9"/>
<text x="417.08" y="278.3" font-size="9.0" text-anchor="middle">600</text>
<line x1="459.52" y1="265.3" x2="459.52" y2="268.6" stroke="#333333" stroke-width="0.9"/>
<text x="459.52" y="278.3" font-size="9.0" text-anchor="middle">800</text>
<text x="139.25" y="290" font-size="8.8" text-anchor="middle">Day of Year (June-August)</text>
<text x="393.00" y="290" font-size="8.8" text-anchor="middle">Elevation (m)</text>
<text transform="translate(11.0,141.75) rotate(-90)" font-size="9.1" text-anchor="middle">Mean Specific SMB (mm w.e.)</text>
<text transform="translate(256.9,141.75) rotate(-90)" font-size="9.1" text-anchor="middle">Mean Specific SMB (mm w.e.)</text>
<text x="20.5" y="14.7" font-size="12.25" font-weight="bold" fill="#000" style="fill:#000">(a)</text>
<text x="273.5" y="14.7" font-size="12.25" font-weight="bold" style="fill:#000">(b)</text>
<line x1="97.2" y1="305.2" x2="117.2" y2="305.2" stroke="#3182bd" stroke-width="1.75"/>
<text x="125.2" y="308.6" font-size="10" style="fill:#000">CL1</text>
<line x1="162.0" y1="305.2" x2="182.0" y2="305.2" stroke="#9ecae1" stroke-width="1.75" stroke-dasharray="6.48 2.80"/>
<text x="190.0" y="308.6" font-size="10" style="fill:#000">CL2</text>
<line x1="226.6" y1="305.2" x2="246.6" y2="305.2" stroke="#a6a6a6" stroke-width="1.75" stroke-dasharray="1.75 1.75"/>
<text x="254.6" y="308.6" font-size="10" style="fill:#000">CL3</text>
<line x1="291.2" y1="305.2" x2="311.2" y2="305.2" stroke="#f46d43" stroke-width="1.75" stroke-dasharray="11.20 2.80 1.75 2.80"/>
<text x="319.2" y="308.6" font-size="10" style="fill:#000">CL4</text>
<line x1="355.8" y1="305.2" x2="375.8" y2="305.2" stroke="#d73027" stroke-width="1.75" stroke-dasharray="5.25 1.75 1.75 1.75 1.75 1.75"/>
<text x="383.8" y="308.6" font-size="10" style="fill:#000">CL5</text>
</svg></div></body></html>
